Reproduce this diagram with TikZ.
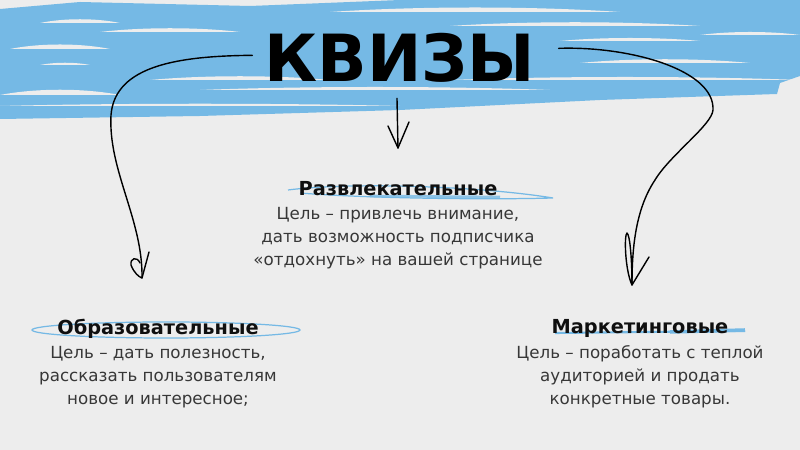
\documentclass[tikz,border=0pt]{standalone}
\usepackage{fontspec}
\setmainfont{DejaVu Sans}
\usetikzlibrary{positioning}

\definecolor{paper}{RGB}{237,237,237}
\definecolor{bandblue}{RGB}{117,185,229}
\definecolor{ink}{RGB}{15,15,15}
\definecolor{bodyink}{RGB}{55,55,55}

% white lens in the brush band: x1, x2, y, width
\newcommand{\streak}[4]{\fill [paper] (#1,#3) .. controls (0.7*#1+0.3*#2,#3+#4) and (0.3*#1+0.7*#2,#3+#4) .. (#2,#3) .. controls (0.3*#1+0.7*#2,#3) and (0.7*#1+0.3*#2,#3) .. (#1,#3);}

\begin{document}
\begin{tikzpicture}[scale=0.2]
\tikzstyle{every node}+=[inner sep=0pt]
\tikzstyle{head}=[font=\fontsize{11}{12}\selectfont\bfseries, text=ink, anchor=base]
\tikzstyle{body}=[font=\fontsize{9.5}{13}\selectfont, text=bodyink, align=center, anchor=north]
\tikzstyle{hand}=[black, line width=0.8pt, line cap=round, line join=round]
\tikzstyle{scribble}=[bandblue, line width=0.7pt]
\useasboundingbox (0,0) rectangle (80,-45);
\fill [paper] (0,0) rectangle (80,-45);
% brush band
\fill [bandblue] (0,-0.9) -- (8,-0.2) -- (25,-0.6) -- (40,0) -- (80,0) -- (80,-7.6) -- (78,-8.3) -- (77.7,-9.4) -- (60,-10) -- (40,-11) -- (20,-11.6) -- (0,-11.9) -- cycle;
\streak{4}{12}{-2.3}{0.5}
\streak{1}{11}{-4.9}{0.6}
\streak{4}{9}{-6.5}{0.3}
\streak{10}{24}{-3.2}{0.5}
\streak{15}{33}{-8.0}{0.5}
\streak{0}{12}{-9.5}{0.7}
\streak{33}{62}{-1.2}{0.6}
\streak{45}{70}{-2.6}{0.5}
\streak{58}{75}{-6.3}{0.5}
\streak{56}{70}{-4.1}{0.4}
\streak{70}{80}{-3.5}{0.4}
\streak{20}{55}{-9.0}{0.4}
\streak{45}{80}{-8.0}{0.4}
\streak{0}{40}{-10.6}{0.3}
% scribbles under the headings
\draw [scribble] (28.8,-19.0) .. controls (35,-18.2) and (48,-18.6) .. (55.3,-19.8) .. controls (48,-20.0) and (36,-19.8) .. (30,-19.3);
\draw [bandblue, line width=1.5pt, opacity=0.8] (37,-19.6) -- (50,-19.7);
\draw [scribble] (16.6,-33.0) ellipse (13.4 and 0.8);
\draw [bandblue, line width=1.2pt] (55.5,-33.3) -- (74.5,-33.1);
\draw [bandblue, line width=2pt] (67,-33.2) -- (74.5,-33.0);
% title and the three kinds
\node (title) [anchor=base, font=\fontsize{37}{40}\selectfont\bfseries, text=black] at (40,-8.2) {КВИЗЫ};
\node (fun) [head] at (39.8,-19.6) {Развлекательные};
\node (funtxt) [body, below=6.5pt of fun.base] {Цель – привлечь внимание,\\дать возможность подписчика\\«отдохнуть» на вашей странице};
\node (edu) [head] at (15.8,-33.5) {Образовательные};
\node (edutxt) [body, below=6.5pt of edu.base] {Цель – дать полезность,\\рассказать пользователям\\новое и интересное;};
\node (mkt) [head] at (64,-33.4) {Маркетинговые};
\node (mkttxt) [body, below=6.5pt of mkt.base] {Цель – поработать с теплой\\аудиторией и продать\\конкретные товары.};
% hand drawn arrows
\coordinate (ctip) at (39.8,-14.8);
\coordinate (ltip) at (14.2,-27.8);
\coordinate (rtip) at (63.2,-28.5);
\draw [hand] (title.south) ++(-0.3,-1.5) -- (ctip);
\draw [hand] (38.8,-12.6) -- (ctip) -- (40.9,-12.2);
\draw [hand] (title.west) ++(-1.2,0.3) .. controls (18,-5.6) and (11.5,-6.5) .. (11.1,-11.5) .. controls (10.8,-17) and (14.3,-22) .. (ltip);
\draw [hand] (14.0,-26.3) .. controls (13.7,-25.6) and (13.0,-25.8) .. (13.1,-26.5) .. controls (13.4,-27.3) and (13.9,-27.7) .. (ltip) -- (14.9,-25.2);
\draw [hand] (title.east) ++(2.3,1.0) .. controls (63,-4.6) and (71.5,-7) .. (71.3,-11) .. controls (71.2,-12.5) and (67,-15.5) .. (65.5,-18) .. controls (63.5,-21) and (63.2,-25) .. (rtip);
\draw [hand] (rtip) .. controls (62.5,-27) and (62.4,-23.5) .. (62.7,-23.3) .. controls (63.0,-23.5) and (63.2,-26) .. (rtip) -- (64.9,-25.7);
\end{tikzpicture}
\end{document}
